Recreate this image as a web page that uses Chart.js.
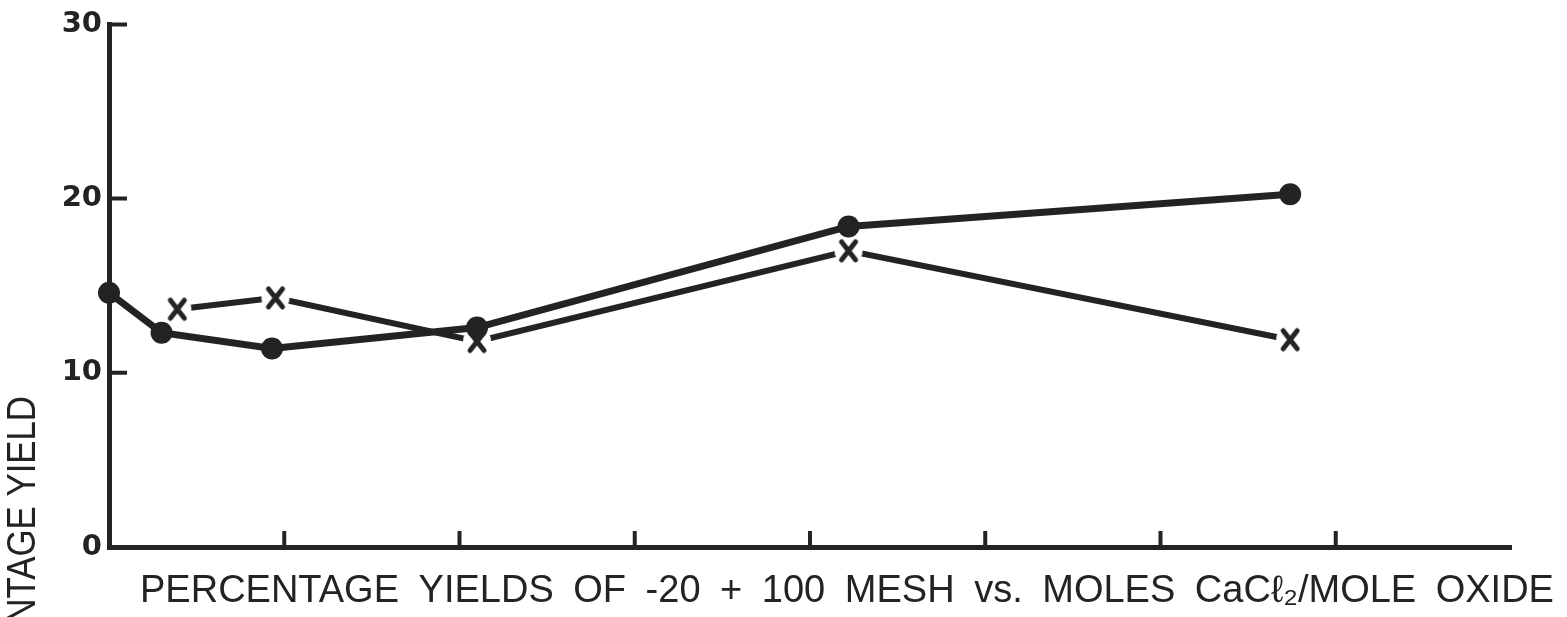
<!DOCTYPE html>
<html>
<head>
<meta charset="utf-8">
<title>Percentage yields of -20+100 mesh vs. moles CaCl2/mole oxide</title>
<script src="https://cdn.jsdelivr.net/npm/chart.js@4.4.1/dist/chart.umd.min.js"></script>
<style>
  html, body { margin: 0; padding: 0; background: #fff; }
  .chart-box { position: relative; width: 1567px; height: 617px; }
</style>
</head>
<body>
<div class="chart-box"><canvas id="yieldChart"></canvas></div>
<script>
// values (x axis has no printed labels)
const dotMoles = [0, 0.3, 0.93, 2.1, 4.22, 6.74];
const dotYield = [14.6, 12.3, 11.4, 12.6, 18.4, 20.25];
const crossMoles = [0.39, 0.95, 2.1, 4.22, 6.74];
const crossYield = [13.65, 14.3, 11.8, 17.0, 11.9];
const yTicks = [0, 10, 20, 30];
const xTicks = [1, 2, 3, 4, 5, 6, 7];
const xTitle = "PERCENTAGE YIELDS OF -20 + 100 MESH vs. MOLES CaCℓ₂/MOLE OXIDE";
const yTitle = "PERCENTAGE YIELD";

const INK = "#232323";

document.addEventListener("DOMContentLoaded", () => {
  initChart();
});

/* =========================
   MARKER "x" (white disc so the line stops short of it)
========================= */
function makeCross() {
  const c = document.createElement("canvas");
  c.width = 32;
  c.height = 32;
  const g = c.getContext("2d");
  g.fillStyle = "#fff";
  g.beginPath();
  g.arc(16, 16, 14, 0, Math.PI * 2);
  g.fill();
  g.strokeStyle = INK;
  g.lineWidth = 5;
  g.lineCap = "round";
  g.beginPath();
  g.moveTo(9, 7); g.lineTo(23, 25);
  g.moveTo(23, 7); g.lineTo(9, 25);
  g.stroke();
  return c;
}

/* =========================
   INNER TICKS + TITLES
========================= */
const inkDecor = {
  id: "inkDecor",
  afterDraw(chart) {
    const { ctx, chartArea, scales } = chart;
    ctx.save();
    ctx.strokeStyle = INK;
    ctx.lineWidth = 4;
    ctx.beginPath();
    yTicks.forEach(v => {
      if (v === 0) return;
      const y = scales.y.getPixelForValue(v);
      ctx.moveTo(chartArea.left, y);
      ctx.lineTo(chartArea.left + 18, y);
    });
    xTicks.forEach(v => {
      const x = scales.x.getPixelForValue(v);
      ctx.moveTo(x, chartArea.bottom);
      ctx.lineTo(x, chartArea.bottom - 16);
    });
    ctx.stroke();

    ctx.fillStyle = INK;

    // bottom caption
    ctx.font = "38px 'Liberation Sans', Arial, sans-serif";
    ctx.textAlign = "left";
    ctx.textBaseline = "alphabetic";
    ctx.wordSpacing = "9px";
    ctx.fillText(xTitle, chartArea.left + 31, 602);

    // y title, cut off by the bottom edge like the scan
    ctx.wordSpacing = "0px";
    ctx.font = "40px 'Liberation Sans', Arial, sans-serif";
    ctx.translate(24, 396);
    ctx.rotate(-Math.PI / 2);
    ctx.scale(0.87, 1);
    ctx.textAlign = "right";
    ctx.textBaseline = "middle";
    ctx.fillText(yTitle, 0, 0);
    ctx.restore();
  }
};

/* =========================
   CHART
========================= */
function initChart() {
  const ctx = document.getElementById("yieldChart");
  if (!ctx) return;

  new Chart(ctx, {
    type: "line",
    data: {
      datasets: [
        {
          label: "dots",
          data: dotMoles.map((x, i) => ({ x: x, y: dotYield[i] })),
          borderColor: INK,
          borderWidth: 7,
          pointStyle: "circle",
          pointRadius: 11,
          pointBackgroundColor: INK,
          pointBorderWidth: 0,
          clip: false,
          order: 0
        },
        {
          label: "crosses",
          data: crossMoles.map((x, i) => ({ x: x, y: crossYield[i] })),
          borderColor: INK,
          borderWidth: 6,
          pointStyle: makeCross(),
          pointRadius: 10,
          clip: false,
          order: 1
        }
      ]
    },
    options: {
      responsive: true,
      maintainAspectRatio: false,
      animation: false,
      layout: { padding: { top: 24, right: 56, left: 0, bottom: 0 } },
      plugins: {
        legend: { display: false },
        tooltip: { enabled: false }
      },
      scales: {
        x: {
          type: "linear",
          min: 0,
          max: 8,
          grid: { display: false, drawTicks: false },
          border: { color: INK, width: 5 },
          ticks: { display: false },
          afterFit(s) { s.height = 70; }
        },
        y: {
          min: 0,
          max: 30,
          grid: { display: false, drawTicks: false },
          border: { color: INK, width: 5 },
          ticks: {
            stepSize: 10,
            color: INK,
            padding: 7,
            font: { family: "'DejaVu Sans', sans-serif", weight: "bold", size: 29 }
          },
          afterFit(s) { s.width = 109; }
        }
      }
    },
    plugins: [inkDecor]
  });
}
</script>
</body>
</html>
